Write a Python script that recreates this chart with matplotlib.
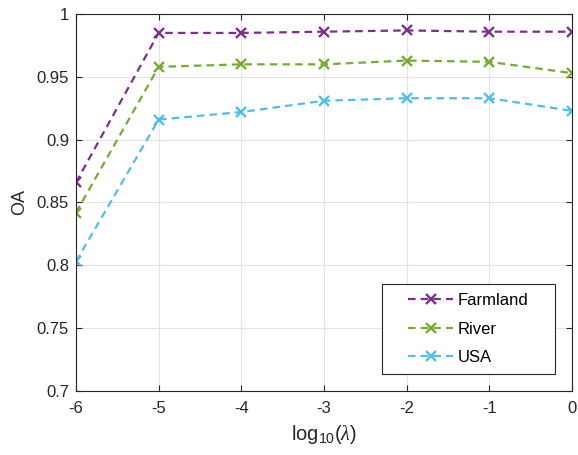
import matplotlib
matplotlib.use("Agg")
import matplotlib.pyplot as plt
from matplotlib.patches import Rectangle

plt.rcParams["font.family"] = ["Liberation Sans", "DejaVu Sans"]
plt.rcParams["mathtext.fontset"] = "custom"
plt.rcParams["mathtext.rm"] = "Liberation Sans"
plt.rcParams["mathtext.it"] = "Liberation Serif:italic"
plt.rcParams["axes.unicode_minus"] = False

log_lambda = [-6, -5, -4, -3, -2, -1, 0]
farmland = [0.866, 0.985, 0.985, 0.986, 0.987, 0.986, 0.986]
river = [0.842, 0.958, 0.960, 0.960, 0.963, 0.962, 0.953]
usa = [0.803, 0.916, 0.922, 0.931, 0.933, 0.933, 0.923]

fig = plt.figure(figsize=(5.78, 4.55), dpi=100)
ax = fig.add_axes([0.1315, 0.141, 0.858, 0.828])

style = dict(ls="--", marker="x", lw=1.6, ms=7.5, mew=1.7, dashes=(3.4, 2.3))
ax.plot(log_lambda, farmland, color="#7E2F8E", label="Farmland", **style)
ax.plot(log_lambda, river, color="#77AC30", label="River", **style)
ax.plot(log_lambda, usa, color="#4DBEEE", label="USA", **style)

ax.set_xlim(-6, 0)
ax.set_ylim(0.7, 1)
ax.set_xticks(log_lambda)
ax.set_yticks([0.7, 0.75, 0.8, 0.85, 0.9, 0.95, 1])
ax.set_yticklabels(["0.7", "0.75", "0.8", "0.85", "0.9", "0.95", "1"])
ax.grid(True, color="#e3e3e3", lw=0.8)
ax.set_axisbelow(True)
ax.tick_params(direction="in", top=True, right=True, labelsize=12,
               colors="#262626", length=4.5)
ax.tick_params(axis="x", pad=7)
ax.tick_params(axis="y", pad=5)
for s in ax.spines.values():
    s.set_color("#262626")
    s.set_linewidth(0.8)

ax.set_xlabel(r"log$_{10}$($\lambda$)", fontsize=14.5, color="#262626", labelpad=5)
ax.set_ylabel("OA", fontsize=13, color="#262626", labelpad=6)

# legend without its own frame; the frame is drawn wider below, as in the reference
leg = ax.legend(loc="lower right", bbox_to_anchor=(0.913, 0.068), fontsize=12,
                frameon=False, handlelength=2.7, handletextpad=0.3,
                borderpad=0, labelspacing=0.82, borderaxespad=0)
leg.set_zorder(6)

fig.canvas.draw()
bb = leg.get_window_extent().transformed(fig.transFigure.inverted())
padx = 26 / fig.bbox.width
pady = 9 / fig.bbox.height
frame = Rectangle((bb.x0 - padx, bb.y0 - pady), bb.width + 2 * padx,
                  bb.height + 2 * pady, transform=fig.transFigure,
                  facecolor="white", edgecolor="#262626", lw=0.8,
                  zorder=5, clip_on=False)
ax.add_artist(frame)

fig.savefig("out.png", dpi=100)
